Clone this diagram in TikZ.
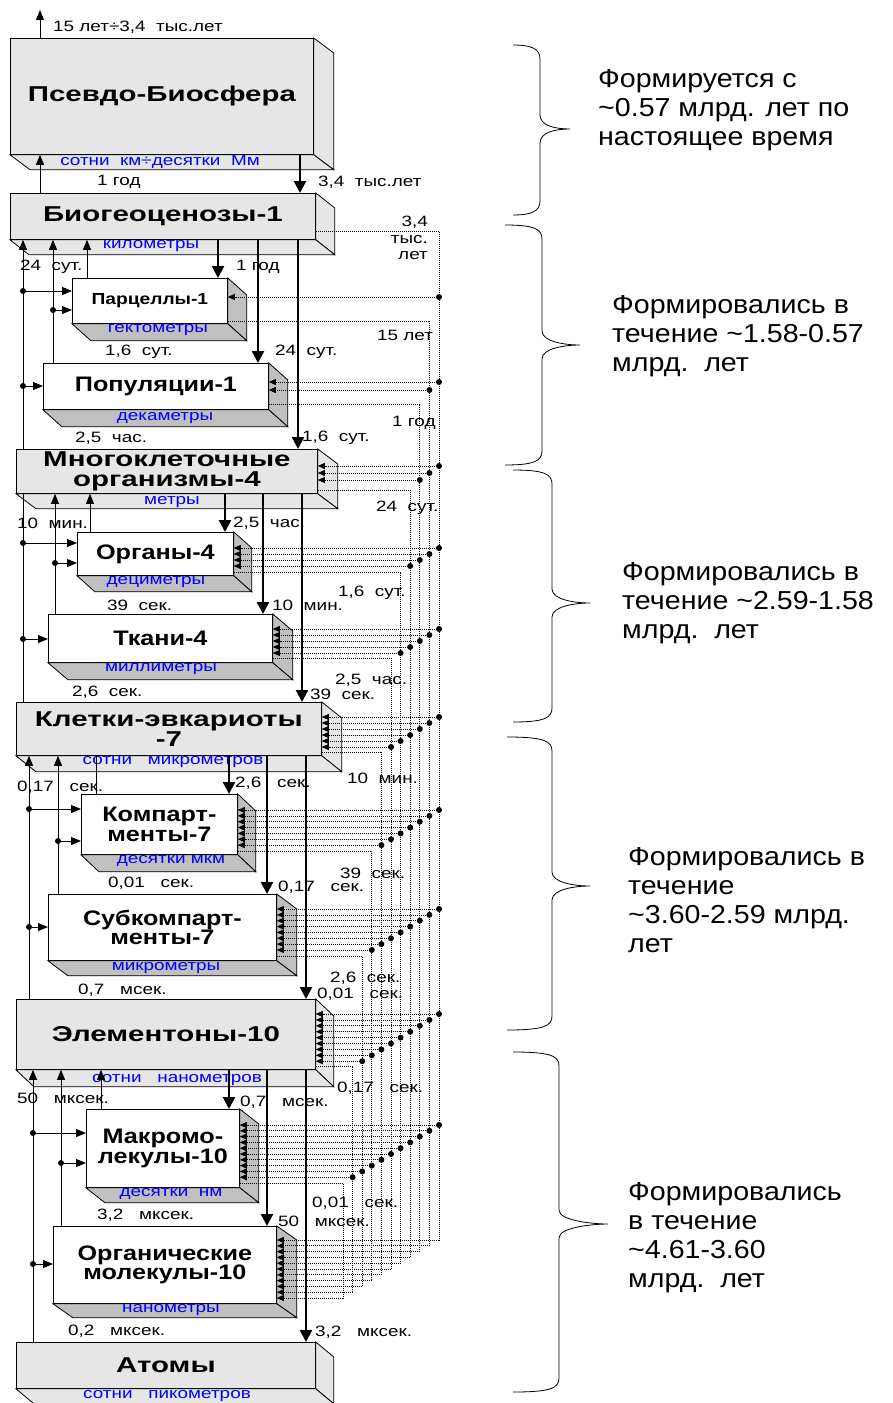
\documentclass[tikz,border=0pt]{standalone}
\usepackage{fontspec}
\usetikzlibrary{arrows.meta}
\newfontfamily\bigfont[FakeStretch=1.37]{Liberation Sans}
\newfontfamily\subfont[FakeStretch=1.2]{Liberation Sans}
\newfontfamily\labfont[FakeStretch=1.26]{Liberation Sans}
\newfontfamily\notefont[FakeStretch=1.1]{Liberation Sans}
\definecolor{lgray}{RGB}{230,230,230}
\definecolor{mgray}{RGB}{192,192,192}
\colorlet{bigside}{lgray}
\colorlet{subside}{mgray}
\colorlet{smlside}{mgray}
\tikzset{
  box/.style={draw, line width=0.8pt, inner sep=0pt, align=center},
  big/.style={box, fill=lgray, font=\bigfont\bfseries\fontsize{21.5}{19.5}\selectfont},
  sub/.style={box, fill=white, font=\subfont\bfseries\fontsize{21}{19.5}\selectfont},
  sml/.style={box, fill=white, font=\subfont\bfseries\fontsize{16}{16}\selectfont},
  lab/.style={inner sep=0pt, anchor=west, font=\labfont\fontsize{15}{16.5}\selectfont},
  unit/.style={inner sep=0pt, text=blue, font=\labfont\fontsize{15}{16}\selectfont},
  note/.style={inner sep=0pt, anchor=west, align=left, font=\notefont\fontsize{26}{29}\selectfont},
  up/.style={line width=0.9pt, -{Triangle[length=10pt,width=8pt]}},
  down/.style={line width=2.4pt, -{Triangle[length=12pt,width=12pt]}},
  fb/.style={line width=0.7pt, dash pattern=on 0.9pt off 1.1pt},
  fbin/.style={fb, -{Triangle[length=7pt,width=6pt]}},
}
% name, kind, x, y, w, h, depth, title
\newcommand\block[8]{%
  \node[#2, minimum width=#5pt, minimum height=#6pt, anchor=north west] (#1) at (#3,#4) {#8};
  \draw[fill=#2side, line width=0.8pt] (#1.north east) -- ++#7 -- ([shift={#7}]#1.south east) -- (#1.south east) -- cycle;
  \draw[fill=#2side, line width=0.8pt] (#1.south west) -- ++#7 -- ([shift={#7}]#1.south east) -- (#1.south east) -- cycle;
}
% x0, x1, xtip, ytop, ytip, ybot
\newcommand\periodbrace[6]{%
  \draw[line width=0.8pt] (#1,#4) .. controls (#2-8,#4) and (#2,#4+4) .. (#2,#4+14) -- (#2,#5-14)
    .. controls (#2,#5-3) and (#3-14,#5) .. (#3,#5) .. controls (#3-14,#5) and (#2,#5+3) .. (#2,#5+14)
    -- (#2,#6-14) .. controls (#2,#6-4) and (#2-8,#6) .. (#1,#6);
}
\begin{document}
\begin{tikzpicture}[x=1pt,y=-1pt]
  \useasboundingbox (0,0) rectangle (892,1403);
  \def\r{3};
  \block{pb}{big}{10}{38}{303}{116}{(20,15)}{Псевдо-Биосфера}
  \block{bgc}{big}{10}{193}{305}{46}{(19,15)}{Биогеоценозы-1}
  \block{parc}{sml}{72}{278}{155}{45}{(19,17)}{Парцеллы-1}
  \block{pop}{sub}{43}{363}{225}{46}{(19,17)}{Популяции-1}
  \block{mco}{big}{16}{449}{301}{44}{(20,15)}{Многоклеточные\\организмы-4}
  \block{orgn}{sub}{77}{532}{156}{43}{(18,16)}{Органы-4}
  \block{tis}{sub}{48}{614}{224}{48}{(20,17)}{Ткани-4}
  \block{cell}{big}{16}{702}{305}{53}{(20,16)}{Клетки-эвкариоты\\-7}
  \block{comp}{sub}{81}{794}{156}{60}{(18,17)}{Компарт-\\менты-7}
  \block{sub}{sub}{48}{894}{228}{66}{(20,15)}{Субкомпарт-\\менты-7}
  \block{elem}{big}{16}{999}{299}{70}{(18,17)}{Элементоны-10}
  \block{macro}{sub}{86}{1109}{153}{78}{(19,15)}{Макромо-\\лекулы-10}
  \block{omol}{sub}{53}{1226}{223}{77}{(20,14)}{Органические\\молекулы-10}
  \block{atom}{big}{16}{1342}{299}{46}{(18,15)}{Атомы}
  \node[unit] (u1) at (160,162) {сотни\ \ км÷десятки\ \ Мм};
  \node[unit] (u2) at (151,246) {километры};
  \node[unit] (u3) at (158,330) {гектометры};
  \node[unit] (u4) at (165,418) {декаметры};
  \node[unit] (u5) at (172,502) {метры};
  \node[unit] (u6) at (156,582) {дециметры};
  \node[unit] (u7) at (161,669) {миллиметры};
  \node[unit] (u8) at (173,762) {сотни\ \ \ микрометров};
  \node[unit] (u9) at (171,861) {десятки мкм};
  \node[unit] (u10) at (166,968) {микрометры};
  \node[unit] (u11) at (177,1080) {сотни\ \ \ нанометров};
  \node[unit] (u12) at (171,1194) {десятки\ \ нм};
  \node[unit] (u13) at (171,1310) {нанометры};
  \node[unit] (u14) at (167,1396) {сотни\ \ \ пикометров};
  %top
  \coordinate (top) at (40,10);
  \draw[up] (pb.north -| top) -- (top);
  \draw[up] (bgc.north -| top) -- (pb.south -| top);
  \draw[down] (pb.south -| 300,0) -- (bgc.north -| 300,0);
  \node[lab] (l0) at (53,27) {15 лет÷3,4\ \ тыс.лет};
  \node[lab] (l1) at (97,182) {1 год};
  \node[lab] (l2) at (318,182) {3,4\ \ тыс.лет};
  %level 1
  \draw[down] (bgc.south -| 218,0) -- (parc.north -| 218,0);
  \draw[down] (bgc.south -| 258,0) -- (pop.north -| 258,0);
  \draw[down] (bgc.south -| 298,0) -- (mco.north -| 298,0);
  \draw[up] (mco.north -| 23,0) -- (bgc.south -| 23,0);
  \draw[up] (pop.north -| 53,0) -- (bgc.south -| 53,0);
  \draw[up] (parc.north -| 87,0) -- (bgc.south -| 87,0);
  \fill (23,291) circle (\r); \draw[up] (23,291) -- (parc.west |- 0,291);
  \fill (53,310) circle (\r); \draw[up] (53,310) -- (parc.west |- 0,310);
  \fill (23,386) circle (\r); \draw[up] (23,386) -- (pop.west |- 0,386);
  \node[lab] (l3) at (20,267) {24\ \ сут.};
  \node[lab] (l4) at (236,267) {1 год};
  \node[lab] (l5) at (105,352) {1,6\ \ сут.};
  \node[lab] (l6) at (275,352) {24\ \ сут.};
  \node[lab] (l7) at (75,438) {2,5\ \ час.};
  \node[lab] (l8) at (302,438) {1,6\ \ сут.};
  %level 4
  \draw[down] (mco.south -| 225,0) -- (orgn.north -| 225,0);
  \draw[down] (mco.south -| 263,0) -- (tis.north -| 263,0);
  \draw[down] (mco.south -| 302,0) -- (cell.north -| 302,0);
  \draw[line width=0.9pt] (cell.north -| 23,0) -- (mco.south -| 23,0);
  \draw[up] (tis.north -| 55,0) -- (mco.south -| 55,0);
  \draw[up] (orgn.north -| 90,0) -- (mco.south -| 90,0);
  \fill (23,543) circle (\r); \draw[up] (23,543) -- (orgn.west |- 0,543);
  \fill (55,563) circle (\r); \draw[up] (55,563) -- (orgn.west |- 0,563);
  \fill (23,639) circle (\r); \draw[up] (23,639) -- (tis.west |- 0,639);
  \node[lab] (l9) at (17,523) {10\ \ мин.};
  \node[lab] (l10) at (233,523) {2,5\ \ час.};
  \node[lab] (l11) at (107,605) {39\ \ сек.};
  \node[lab] (l12) at (272,605) {10\ \ мин.};
  \node[lab] (l13) at (72,692) {2,6\ \ сек.};
  \node[lab] (l14) at (310,694) {39\ \ сек.};
  %level 7
  \draw[down] (cell.south -| 229,0) -- (comp.north -| 229,0);
  \draw[down] (cell.south -| 267,0) -- (sub.north -| 267,0);
  \draw[down] (cell.south -| 306,0) -- (elem.north -| 306,0);
  \draw[up] (elem.north -| 29,0) -- (cell.south -| 29,0);
  \draw[up] (sub.north -| 58,0) -- (cell.south -| 58,0);
  \draw[line width=0.9pt] (comp.north -| 96,0) -- (cell.south -| 96,0);
  \fill (29,809) circle (\r); \draw[up] (29,809) -- (comp.west |- 0,809);
  \fill (58,841) circle (\r); \draw[up] (58,841) -- (comp.west |- 0,841);
  \fill (29,927) circle (\r); \draw[up] (29,927) -- (sub.west |- 0,927);
  \node[lab] (l15) at (17,787) {0,17\ \ \ сек.};
  \node[lab] (l16) at (235,783) {2,6\ \ \ сек.};
  \node[lab] (l17) at (108,883) {0,01\ \ \ сек.};
  \node[lab] (l18) at (278,887) {0,17\ \ \ сек.};
  \node[lab] (l19) at (78,990) {0,7\ \ \ мсек.};
  \node[lab] (l20) at (317,994) {0,01\ \ \ сек.};
  %level 10
  \draw[down] (elem.south -| 229,0) -- (macro.north -| 229,0);
  \draw[down] (elem.south -| 267,0) -- (omol.north -| 267,0);
  \draw[down] (elem.south -| 306,0) -- (atom.north -| 306,0);
  \draw[up] (atom.north -| 33,0) -- (elem.south -| 33,0);
  \draw[up] (omol.north -| 61,0) -- (elem.south -| 61,0);
  \draw[up] (macro.north -| 101,0) -- (elem.south -| 101,0);
  \fill (33,1133) circle (\r); \draw[up] (33,1133) -- (macro.west |- 0,1133);
  \fill (61,1163) circle (\r); \draw[up] (61,1163) -- (macro.west |- 0,1163);
  \fill (33,1264) circle (\r); \draw[up] (33,1264) -- (omol.west |- 0,1264);
  \node[lab] (l21) at (17,1098) {50\ \ \ мксек.};
  \node[lab] (l22) at (240,1102) {0,7\ \ \ мсек.};
  \node[lab] (l23) at (97,1215) {3,2\ \ \ мксек.};
  \node[lab] (l24) at (278,1221) {50\ \ \ мксек.};
  \node[lab] (l25) at (68,1331) {0,2\ \ \ мксек.};
  \node[lab] (l26) at (315,1332) {3,2\ \ \ мксек.};
  %dotted feedback
  \foreach \k/\b/\yo in {1/bgc/231,2/parc/321,3/pop/404,4/mco/490,5/orgn/572,6/tis/658,7/cell/752,8/comp/851,9/sub/956,10/elem/1066,11/macro/1183}{
    \pgfmathsetmacro\xv{439-9.6*(\k-1)}
    \pgfmathsetmacro\ye{1240+5.8*(\k-1)}
    \draw[fb] (\b.east |- 0,\yo) -- (\xv,\yo) -- (\xv,\ye);
  }
  \foreach \j/\b/\yi/\s in {2/parc/297/8,3/pop/382/8,4/mco/466/7,5/orgn/548/6,6/tis/629/6,7/cell/717/6,8/comp/810/5.85,9/sub/909/5.85,10/elem/1014/5.9,11/macro/1125/5.8,12/omol/1240/5.8}{
    \pgfmathtruncatemacro\n{\j-1}
    \foreach \k in {1,...,\n}{
      \pgfmathsetmacro\xv{439-9.6*(\k-1)}
      \pgfmathsetmacro\yy{\yi+\s*(\k-1)}
      \draw[fbin] (\xv,\yy) -- (\b.east |- 0,\yy);
      \ifnum\j<12 \fill (\xv,\yy) circle (\r); \fi
    }
  }
  \node[lab, anchor=east, align=right] (d1) at (428,238) {3,4\\тыс.\\лет};
  \node[lab] (d2) at (377,335) {15 лет};
  \node[lab] (d3) at (392,423) {1 год};
  \node[lab] (d4) at (376,508) {24\ \ сут.};
  \node[lab] (d5) at (338,593) {1,6\ \ сут.};
  \node[lab] (d6) at (335,680) {2,5\ \ час.};
  \node[lab] (d7) at (347,778) {10\ \ мин.};
  \node[lab] (d8) at (340,873) {39\ \ сек.};
  \node[lab] (d9) at (330,978) {2,6\ \ сек.};
  \node[lab] (d10) at (337,1088) {0,17\ \ \ сек.};
  \node[lab] (d11) at (312,1203) {0,01\ \ \ сек.};
  %periods
  \periodbrace{513}{540}{570}{45}{129}{215}
  \periodbrace{505}{542}{580}{225}{345}{465}
  \periodbrace{513}{552}{590}{470}{603}{722}
  \periodbrace{507}{552}{590}{737}{886}{1030}
  \periodbrace{513}{559}{608}{1052}{1224}{1392}
  \node[note] (n1) at (598,110) {Формируется с\\\textasciitilde0.57 млрд. лет по\\настоящее время};
  \node[note] (n2) at (612,336) {Формировались в\\течение \textasciitilde1.58-0.57\\млрд.\ \ лет};
  \node[note] (n3) at (622,603) {Формировались в\\течение \textasciitilde2.59-1.58\\млрд.\ \ лет};
  \node[note] (n4) at (628,900) {Формировались в\\течение\\\textasciitilde3.60-2.59 млрд.\\лет};
  \node[note] (n5) at (628,1238) {Формировались\\в течение\\\textasciitilde4.61-3.60\\млрд.\ \ лет};
\end{tikzpicture}
\end{document}
